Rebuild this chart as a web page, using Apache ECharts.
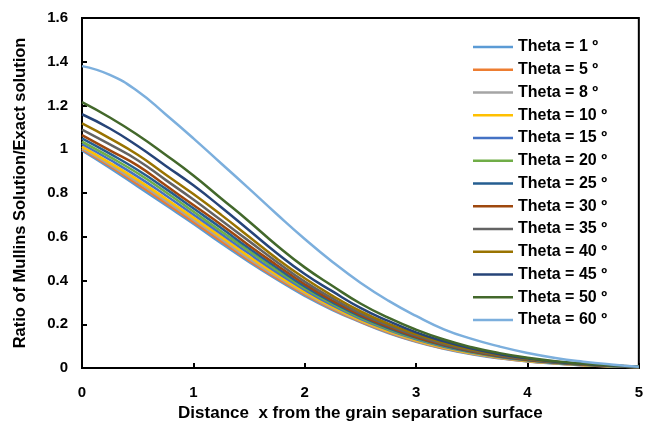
<!DOCTYPE html>
<html>
<head>
<meta charset="utf-8">
<script src="https://cdn.jsdelivr.net/npm/echarts@6/dist/echarts.min.js"></script>
<style>
  html, body {margin: 0; padding: 0; background: #fff;}
  #chart {width: 646px; height: 427px;}
</style>
</head>
<body>
<div id="chart"></div>
<script>
const xValues = [0, 0.25, 0.5, 0.75, 1, 1.25, 1.5, 1.75, 2, 2.25, 2.5, 2.75, 3, 3.25, 3.5, 3.75, 4, 4.25, 4.5, 4.75, 5];

const seriesNames = ['Theta = 1 º', 'Theta = 5 º', 'Theta = 8 º', 'Theta = 10 º', 'Theta = 15 º', 'Theta = 20 º',
  'Theta = 25 º', 'Theta = 30 º', 'Theta = 35 º', 'Theta = 40 º', 'Theta = 45 º', 'Theta = 50 º', 'Theta = 60 º'];

const colors = ['#5B9BD5', '#ED7D31', '#A5A5A5', '#FFC000', '#4472C4', '#70AD47',
  '#255E91', '#9E480E', '#636363', '#997300', '#264478', '#43682B', '#7CAFDD'];

const theta1 = [0.995, 0.915, 0.83, 0.745, 0.66, 0.57, 0.485, 0.405, 0.33, 0.265, 0.21, 0.16, 0.12, 0.088, 0.063, 0.044, 0.03, 0.02, 0.013, 0.008, 0.005];
const theta5 = [1.0, 0.922, 0.84, 0.755, 0.668, 0.58, 0.492, 0.411, 0.336, 0.269, 0.212, 0.163, 0.122, 0.09, 0.065, 0.046, 0.031, 0.021, 0.013, 0.008, 0.005];
const theta8 = [1.005, 0.93, 0.85, 0.765, 0.678, 0.59, 0.5, 0.418, 0.342, 0.274, 0.215, 0.166, 0.124, 0.092, 0.066, 0.047, 0.032, 0.021, 0.013, 0.008, 0.005];
const theta10 = [1.012, 0.938, 0.86, 0.775, 0.688, 0.6, 0.51, 0.426, 0.348, 0.279, 0.219, 0.169, 0.127, 0.094, 0.068, 0.048, 0.033, 0.022, 0.014, 0.008, 0.005];
const theta15 = [1.024, 0.952, 0.875, 0.79, 0.702, 0.613, 0.523, 0.437, 0.357, 0.286, 0.225, 0.174, 0.131, 0.097, 0.071, 0.05, 0.035, 0.023, 0.015, 0.009, 0.005];
const theta20 = [1.035, 0.965, 0.89, 0.805, 0.715, 0.625, 0.535, 0.447, 0.365, 0.293, 0.23, 0.178, 0.135, 0.1, 0.073, 0.052, 0.036, 0.024, 0.015, 0.009, 0.005];
const theta25 = [1.05, 0.98, 0.905, 0.82, 0.73, 0.64, 0.547, 0.458, 0.373, 0.3, 0.236, 0.183, 0.139, 0.103, 0.075, 0.053, 0.037, 0.025, 0.016, 0.009, 0.005];
const theta30 = [1.065, 0.995, 0.925, 0.835, 0.745, 0.655, 0.56, 0.47, 0.383, 0.307, 0.242, 0.188, 0.142, 0.106, 0.077, 0.055, 0.038, 0.026, 0.016, 0.01, 0.005];
const theta35 = [1.09, 1.022, 0.95, 0.86, 0.77, 0.675, 0.58, 0.485, 0.395, 0.318, 0.25, 0.195, 0.148, 0.11, 0.08, 0.057, 0.04, 0.027, 0.017, 0.01, 0.006];
const theta40 = [1.118, 1.05, 0.975, 0.885, 0.795, 0.7, 0.6, 0.5, 0.41, 0.33, 0.26, 0.203, 0.155, 0.115, 0.084, 0.06, 0.042, 0.028, 0.018, 0.011, 0.006];
const theta45 = [1.16, 1.095, 1.015, 0.925, 0.835, 0.735, 0.63, 0.525, 0.43, 0.35, 0.275, 0.215, 0.163, 0.122, 0.089, 0.063, 0.044, 0.029, 0.019, 0.011, 0.006];
const theta50 = [1.215, 1.145, 1.065, 0.975, 0.88, 0.775, 0.67, 0.56, 0.46, 0.375, 0.295, 0.23, 0.175, 0.13, 0.095, 0.068, 0.047, 0.031, 0.02, 0.012, 0.007];
const theta60 = [1.38, 1.34, 1.265, 1.16, 1.05, 0.935, 0.82, 0.703, 0.59, 0.485, 0.39, 0.308, 0.238, 0.177, 0.133, 0.098, 0.069, 0.046, 0.029, 0.016, 0.006];

const allValues = [theta1, theta5, theta8, theta10, theta15, theta20, theta25, theta30, theta35, theta40, theta45, theta50, theta60];

const chart = echarts.init(document.getElementById('chart'));

const series = allValues.map((vals, i) => ({
  name: seriesNames[i],
  type: 'line',
  smooth: true,
  symbol: 'none',
  data: xValues.map((x, j) => [x, vals[j]]),
  lineStyle: {width: 2.5, color: colors[i]},
  itemStyle: {color: colors[i]}
}));

const font = 'Liberation Sans, Arial, sans-serif';

const option = {
  animation: false,
  grid: {
    left: 82, right: 4, top: 18, bottom: 59,
    show: true, borderColor: '#000', borderWidth: 2
  },
  legend: {
    orient: 'vertical',
    left: 468, top: 30.5,
    icon: 'rect',
    itemWidth: 40, itemHeight: 2.5, itemGap: 0,
    textStyle: {fontFamily: font, fontWeight: 'bold', fontSize: 16, lineHeight: 22.75, color: '#000'},
    data: seriesNames
  },
  xAxis: {
    type: 'value', min: 0, max: 5, interval: 1,
    name: 'Distance  x from the grain separation surface',
    nameLocation: 'middle', nameGap: 33,
    nameTextStyle: {fontFamily: font, fontWeight: 'bold', fontSize: 17, color: '#000'},
    axisLine: {show: true, lineStyle: {color: '#000', width: 2}},
    axisTick: {show: true, inside: true, length: 5, lineStyle: {color: '#000', width: 2}},
    axisLabel: {fontFamily: font, fontWeight: 'bold', fontSize: 15, color: '#000', margin: 17},
    splitLine: {show: false}
  },
  yAxis: {
    type: 'value', min: 0, max: 1.6, interval: 0.2,
    name: 'Ratio of Mullins Solution/Exact solution',
    nameLocation: 'middle', nameGap: 53,
    nameTextStyle: {fontFamily: font, fontWeight: 'bold', fontSize: 16.5, color: '#000'},
    axisLine: {show: true, lineStyle: {color: '#000', width: 2}},
    axisTick: {show: true, inside: true, length: 5, lineStyle: {color: '#000', width: 2}},
    axisLabel: {fontFamily: font, fontWeight: 'bold', fontSize: 15, color: '#000', margin: 14},
    splitLine: {show: false}
  },
  series: series
};

chart.setOption(option);
</script>
</body>
</html>
